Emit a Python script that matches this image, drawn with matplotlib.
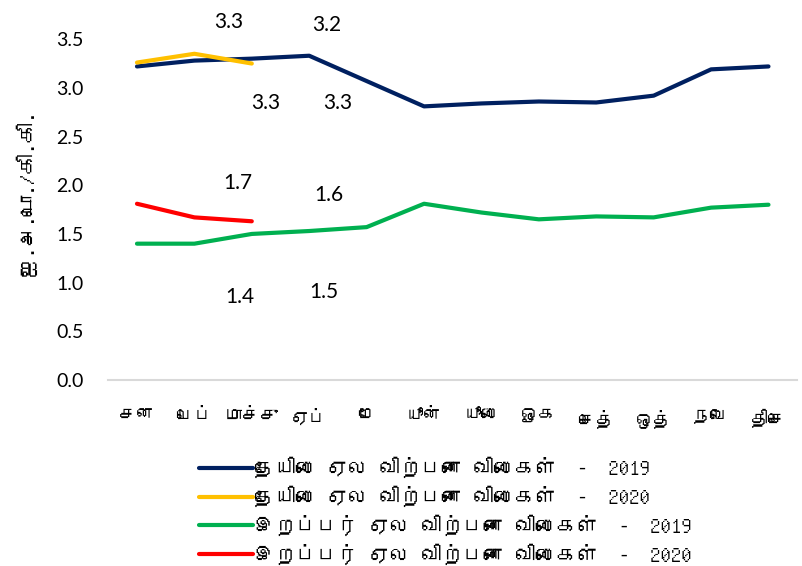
import matplotlib
matplotlib.use("Agg")
import matplotlib.pyplot as plt
from matplotlib import font_manager
from matplotlib.ft2font import FT2Font

months = ["சன", "பெப்", "மாச்சு", "ஏப்", "மே", "யூன்", "யூலை", "ஓக", "செத்", "ஒத்", "நவெ", "திசெ"]
tea_2019 = [3.22, 3.28, 3.30, 3.33, 3.07, 2.81, 2.84, 2.86, 2.85, 2.92, 3.19, 3.22]
tea_2020 = [3.26, 3.35, 3.25]
rubber_2019 = [1.40, 1.40, 1.50, 1.53, 1.57, 1.81, 1.72, 1.65, 1.68, 1.67, 1.77, 1.80]
rubber_2020 = [1.81, 1.67, 1.63]
series_names = ["தேயிலை ஏல விற்பனை விலைகள்  -  2019",
                "தேயிலை ஏல விற்பனை விலைகள்  -  2020",
                "இறப்பர் ஏல விற்பனை விலைகள்  -  2019",
                "இறப்பர் ஏல விற்பனை விலைகள்  -  2020"]
ylabel = "ஐ.அ.டொ./கி.கி."
yticks = [0.0, 0.5, 1.0, 1.5, 2.0, 2.5, 3.0, 3.5]
# data labels as shown: (text, month index, y value)
labels_txt = ["3.3", "3.2", "3.3", "3.3", "1.7", "1.6", "1.4", "1.5"]
labels_x = [1.6, 3.3, 2.25, 3.5, 1.75, 3.35, 1.8, 3.25]
labels_y = [3.68, 3.65, 2.84, 2.84, 2.02, 1.90, 0.85, 0.90]

# find a font with Tamil glyphs
tamil_fonts = []
for f in font_manager.fontManager.ttflist:
    try:
        ft = FT2Font(f.fname)
        cm = ft.get_charmap()
        if 0x0BA4 in cm and 0x0BC8 in cm:
            tamil_fonts.append(f.name)
    except Exception:
        pass
fam = list(dict.fromkeys(tamil_fonts)) + ["DejaVu Sans"]
num_fam = ["Lato", "DejaVu Sans"]

colors = ["#002060", "#FFC000", "#00B050", "#FF0000"]

fig = plt.figure(figsize=(8.02, 5.66), dpi=100)
ax = fig.add_axes([0.135, 0.3286, 0.859, 0.6624])
x = list(range(len(months)))
lw = 3.0
ax.plot(x, tea_2019, color=colors[0], lw=lw, solid_capstyle="round", label=series_names[0])
ax.plot(x[:len(tea_2020)], tea_2020, color=colors[1], lw=lw, solid_capstyle="round", label=series_names[1])
ax.plot(x, rubber_2019, color=colors[2], lw=lw, solid_capstyle="round", label=series_names[2])
ax.plot(x[:len(rubber_2020)], rubber_2020, color=colors[3], lw=lw, solid_capstyle="round", label=series_names[3])

for t, lx, ly in zip(labels_txt, labels_x, labels_y):
    ax.text(lx, ly, t, ha="center", va="center", fontsize=15, family=num_fam, color="#000000", clip_on=False)

ax.set_xlim(-0.5, 11.5)
ax.set_ylim(0, 3.85)
ax.set_yticks(yticks)
ax.set_yticklabels([f"{v:.1f}" for v in yticks], family=num_fam, fontsize=14)
ax.set_xticks(x)
ax.set_xticklabels(months, family=fam, fontsize=13)
ax.tick_params(axis="both", length=0)
ax.tick_params(axis="x", pad=21)
ax.tick_params(axis="y", pad=18)
for s in ["top", "right", "left"]:
    ax.spines[s].set_visible(False)
ax.spines["bottom"].set_color("#D9D9D9")
ax.spines["bottom"].set_linewidth(1.5)
ax.set_ylabel(ylabel, family=fam, fontsize=15, labelpad=14)

leg = fig.legend(loc="upper left", bbox_to_anchor=(0.248, 0.193), frameon=False,
                 prop={"family": fam, "size": 15}, handlelength=2.6, handletextpad=0.05,
                 labelspacing=0.36, borderaxespad=0, borderpad=0)

fig.savefig("out.png", dpi=100)
